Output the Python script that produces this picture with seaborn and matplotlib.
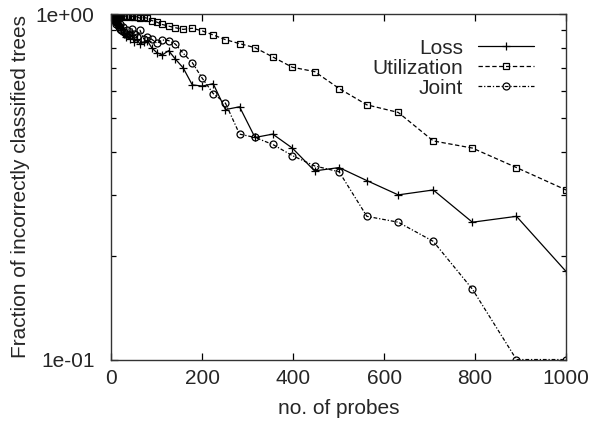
import numpy as np
import pandas as pd
import seaborn as sns
import matplotlib
matplotlib.use("Agg")
import matplotlib.pyplot as plt
from matplotlib.ticker import FixedLocator, FuncFormatter, NullFormatter, LogLocator

# no. of probes (same sample points for every curve)
probes = [1, 2, 3, 4, 5, 6, 7, 8, 9, 10, 11, 13, 14, 16, 18, 20, 22, 25, 28, 32,
          35, 40, 45, 50, 56, 63, 71, 79, 89, 100, 112, 126, 141, 158, 178, 200,
          224, 251, 282, 316, 355, 398, 447, 501, 562, 631, 708, 794, 891, 1000]

# fraction of incorrectly classified trees
loss = [1.0, 1.0, 1.0, 0.99, 0.98, 0.99, 0.97, 0.98, 0.96, 0.97, 0.95, 0.96, 0.94,
        0.93, 0.92, 0.93, 0.90, 0.91, 0.88, 0.86, 0.88, 0.85, 0.87, 0.83, 0.85,
        0.82, 0.83, 0.84, 0.80, 0.775, 0.763, 0.785, 0.742, 0.70, 0.625, 0.62,
        0.63, 0.53, 0.54, 0.44, 0.45, 0.41, 0.352, 0.36, 0.33, 0.30, 0.31, 0.25,
        0.26, 0.18]

utilization = [1.0, 1.0, 1.0, 1.0, 0.995, 1.0, 0.99, 1.0, 0.995, 0.99, 1.0, 0.99,
               0.995, 0.99, 1.0, 0.99, 0.995, 0.99, 0.985, 0.99, 0.99, 0.985, 0.99,
               0.98, 0.985, 0.975, 0.98, 0.975, 0.96, 0.95, 0.935, 0.925, 0.915,
               0.905, 0.912, 0.896, 0.872, 0.845, 0.823, 0.801, 0.753, 0.703, 0.683,
               0.61, 0.547, 0.52, 0.43, 0.41, 0.36, 0.31]

joint = [1.0, 1.0, 0.99, 0.99, 0.98, 0.97, 0.98, 0.96, 0.97, 0.95, 0.94, 0.95, 0.93,
         0.92, 0.94, 0.91, 0.90, 0.92, 0.89, 0.88, 0.90, 0.87, 0.91, 0.88, 0.86,
         0.90, 0.85, 0.86, 0.847, 0.825, 0.843, 0.84, 0.82, 0.772, 0.725, 0.653,
         0.59, 0.553, 0.45, 0.44, 0.42, 0.39, 0.364, 0.35, 0.26, 0.25, 0.22, 0.16,
         0.10, 0.10]

sns.set_style("ticks")
plt.rcParams["font.family"] = ["Liberation Sans", "DejaVu Sans"]

fig = plt.figure(figsize=(5.89, 4.24), dpi=100)
ax = fig.add_axes([0.189, 0.152, 0.772, 0.814])

# Loss: solid line with plus markers
sns.lineplot(x=probes, y=loss, ax=ax, color="black", lw=0.9, linestyle="-",
             marker="+", markersize=6, markeredgewidth=0.9,
             markeredgecolor="black", label="Loss")
# Utilization: dashed line with open squares
sns.lineplot(x=probes, y=utilization, ax=ax, color="black", lw=0.9,
             linestyle=(0, (3.5, 2)), marker="s", markersize=5,
             markerfacecolor="none", markeredgewidth=0.9,
             markeredgecolor="black", label="Utilization")
# Joint: dash-dot line with open circles
sns.lineplot(x=probes, y=joint, ax=ax, color="black", lw=0.9,
             linestyle=(0, (3, 1.5, 1, 1.5)), marker="o", markersize=5,
             markerfacecolor="none", markeredgewidth=0.9,
             markeredgecolor="black", label="Joint")

ax.set_yscale("log")
ax.set_xlim(0, 1000)
ax.set_ylim(0.1, 1.0)
ax.set_xticks([0, 200, 400, 600, 800, 1000])
ax.yaxis.set_major_locator(FixedLocator([0.1, 1.0]))
ax.yaxis.set_major_formatter(FuncFormatter(lambda v, p: "1e+00" if v >= 1 else "1e-01"))
ax.yaxis.set_minor_locator(LogLocator(base=10, subs=np.arange(2, 10)))
ax.yaxis.set_minor_formatter(NullFormatter())

ax.tick_params(which="both", direction="in", top=True, right=True,
               labelsize=15, width=0.9, color="black")
ax.tick_params(axis="x", pad=7)
ax.tick_params(axis="y", pad=12)
ax.tick_params(which="major", length=5)
ax.tick_params(which="minor", length=3.5)
for sp in ax.spines.values():
    sp.set_visible(True)
    sp.set_linewidth(1.0)
    sp.set_color("#333333")

ax.set_xlabel("no. of probes", fontsize=15, labelpad=8)
ax.set_ylabel("Fraction of incorrectly classified trees", fontsize=15, labelpad=4)

leg = ax.legend(loc="upper right", bbox_to_anchor=(0.93, 0.93), frameon=False,
                markerfirst=False, fontsize=15, handlelength=2.7,
                handletextpad=0.7, labelspacing=0.05, borderpad=0, borderaxespad=0)

fig.savefig("out.png", dpi=100)
